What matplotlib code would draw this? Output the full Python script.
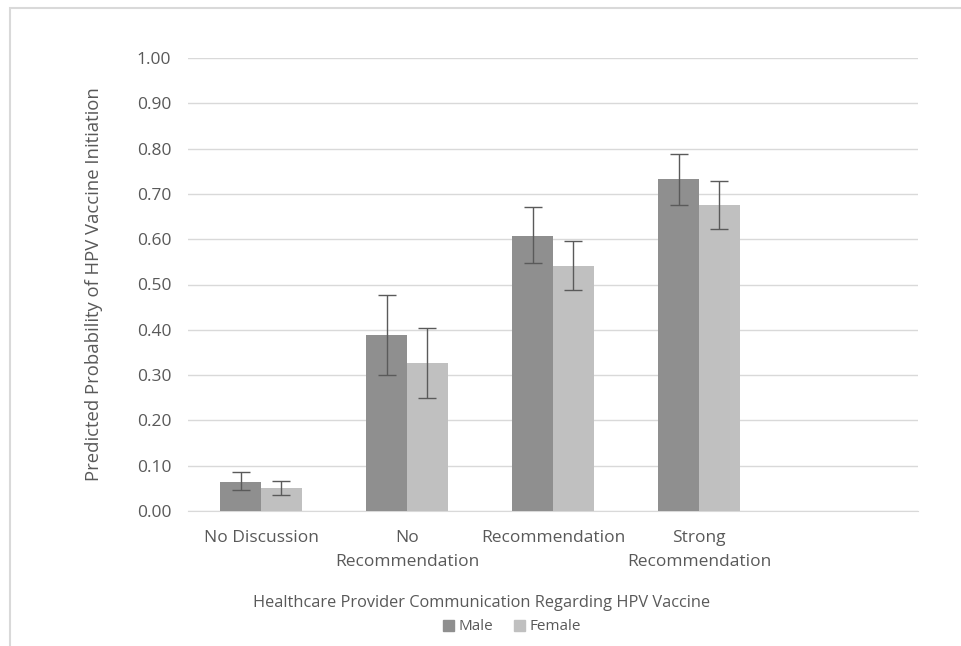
import matplotlib
matplotlib.use("Agg")
import matplotlib.pyplot as plt
from matplotlib.patches import Rectangle, Patch
import numpy as np

plt.rcParams['font.family'] = ['Open Sans', 'DejaVu Sans']

categories = ["No Discussion", "No\nRecommendation", "Recommendation", "Strong\nRecommendation"]
male = [0.065, 0.389, 0.608, 0.732]
male_lo = [0.047, 0.301, 0.547, 0.675]
male_hi = [0.085, 0.477, 0.671, 0.789]
female = [0.051, 0.327, 0.540, 0.675]
female_lo = [0.035, 0.249, 0.488, 0.623]
female_hi = [0.067, 0.405, 0.597, 0.729]

text_col = "#595959"
grid_col = "#d9d9d9"
male_col = "#8f8f8f"
female_col = "#c0c0c0"

W, H = 961, 646
fig = plt.figure(figsize=(W / 100, H / 100), dpi=100)
ax = fig.add_axes([188 / W, 1 - 511 / H, (918 - 188) / W, (511 - 58) / H])

# outer chart frame, cut off on the right and bottom
fig.patches.append(Rectangle((10 / W, -0.05), 1.2, 1.05 - 8 / H, transform=fig.transFigure,
                             fill=False, edgecolor="#d9d9d9", lw=1.5))

x = np.arange(len(categories))
w = 0.28
err_m = [np.array(male) - np.array(male_lo), np.array(male_hi) - np.array(male)]
err_f = [np.array(female) - np.array(female_lo), np.array(female_hi) - np.array(female)]
ekw = dict(ecolor="#5a5a5a", elinewidth=1, capsize=6.5, capthick=1)
ax.bar(x - w / 2, male, w, color=male_col, yerr=err_m, error_kw=ekw, label="Male", zorder=3)
ax.bar(x + w / 2, female, w, color=female_col, yerr=err_f, error_kw=ekw, label="Female", zorder=3)

ax.set_xlim(-0.5, 4.5)
ax.set_ylim(0, 1.0)
ax.set_yticks(np.arange(0, 1.01, 0.1))
ax.set_yticklabels([f"{v:.2f}" for v in np.arange(0, 1.01, 0.1)])
ax.set_xticks(x)
ax.set_xticklabels(categories, linespacing=1.6)
ax.yaxis.grid(True, color=grid_col, lw=1, zorder=0)
ax.set_axisbelow(True)
for s in ["top", "right", "left"]:
    ax.spines[s].set_visible(False)
ax.spines["bottom"].set_color(grid_col)
ax.tick_params(axis="both", length=0, colors=text_col, labelsize=12.5)
ax.tick_params(axis="y", pad=12)
ax.tick_params(axis="x", pad=14)

ax.set_ylabel("Predicted Probability of HPV Vaccine Initiation", color=text_col, fontsize=13.3, labelpad=24)
fig.text(482 / W, 1 - 603 / H, "Healthcare Provider Communication Regarding HPV Vaccine",
         ha="center", va="center", color=text_col, fontsize=11.8)

handles = [Patch(color=male_col, label="Male"), Patch(color=female_col, label="Female")]
fig.legend(handles=handles, loc="center", bbox_to_anchor=(512 / W, 1 - 627 / H), ncol=2,
           frameon=False, fontsize=11, labelcolor=text_col, handlelength=0.75, handleheight=0.75,
           handletextpad=0.3, columnspacing=1.3)

fig.savefig("out.png", dpi=100)
